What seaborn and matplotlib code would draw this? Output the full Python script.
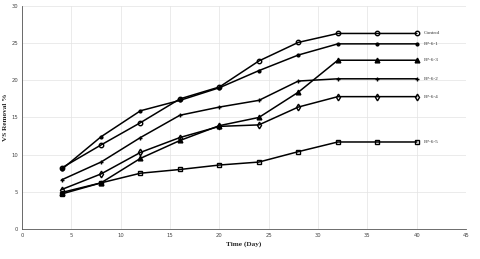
import numpy as np
import pandas as pd
import seaborn as sns
import matplotlib
matplotlib.use("Agg")
import matplotlib.pyplot as plt

days = [4, 8, 12, 16, 20, 24, 28, 32, 36, 40]

control = [8.2, 11.3, 14.3, 17.5, 19.1, 22.6, 25.1, 26.3, 26.3, 26.3]
fp61 = [8.0, 12.4, 15.9, 17.3, 19.0, 21.3, 23.4, 24.9, 24.9, 24.9]
fp63 = [4.9, 6.2, 9.5, 11.9, 13.9, 15.0, 18.4, 22.7, 22.7, 22.7]
fp62 = [6.6, 9.0, 12.3, 15.3, 16.4, 17.3, 19.9, 20.2, 20.2, 20.2]
fp64 = [5.3, 7.4, 10.3, 12.3, 13.8, 14.0, 16.4, 17.8, 17.8, 17.8]
fp65 = [4.7, 6.2, 7.5, 8.0, 8.6, 9.0, 10.4, 11.7, 11.7, 11.7]

series_names = ["Control", "FP-6-1", "FP-6-3", "FP-6-2", "FP-6-4", "FP-6-5"]
series_values = [control, fp61, fp63, fp62, fp64, fp65]

rows = []
for name, vals in zip(series_names, series_values):
    for d, v in zip(days, vals):
        rows.append({"day": d, "vs": v, "series": name})
df = pd.DataFrame(rows)

sns.set_style("whitegrid")
fig, ax = plt.subplots(figsize=(4.8, 2.59), dpi=100)
fig.subplots_adjust(left=0.046, right=0.971, top=0.977, bottom=0.116)

markers = {"Control": "o", "FP-6-1": ".", "FP-6-3": "^", "FP-6-2": "+",
           "FP-6-4": "d", "FP-6-5": "s"}
sizes = {"Control": 3.2, "FP-6-1": 4, "FP-6-3": 3.4, "FP-6-2": 3, "FP-6-4": 3.4, "FP-6-5": 2.6}
open_ = {"Control": True, "FP-6-1": False, "FP-6-3": False, "FP-6-2": False,
         "FP-6-4": True, "FP-6-5": True}

for name in series_names:
    sub = df[df["series"] == name]
    sns.lineplot(data=sub, x="day", y="vs", ax=ax, color="black", linewidth=1.1,
                 marker=markers[name], markersize=sizes[name],
                 markerfacecolor="none" if open_[name] else "black",
                 markeredgecolor="black", markeredgewidth=1.0)
    ax.text(days[-1] + 0.7, sub["vs"].iloc[-1], name, fontsize=3.9,
            family="Liberation Serif", va="center", ha="left", color="#333333")

ax.set_xlim(0, 45)
ax.set_ylim(0, 30)
ax.set_xticks(range(0, 46, 5))
ax.set_yticks(range(0, 31, 5))
ax.tick_params(labelsize=3.8, colors="#444444", length=1.5, pad=1.5)
ax.grid(True, color="#e3e3e3", linewidth=0.5)
for s in ["top", "right"]:
    ax.spines[s].set_visible(False)
for s in ["left", "bottom"]:
    ax.spines[s].set_color("#555555")
    ax.spines[s].set_linewidth(0.6)

ax.set_xlabel("Time (Day)", fontsize=5.2, fontweight="bold", family="Liberation Serif", labelpad=2)
ax.set_ylabel("VS Removal %", fontsize=5.2, fontweight="bold", family="Liberation Serif", labelpad=2)

fig.savefig("out.png", dpi=100)
